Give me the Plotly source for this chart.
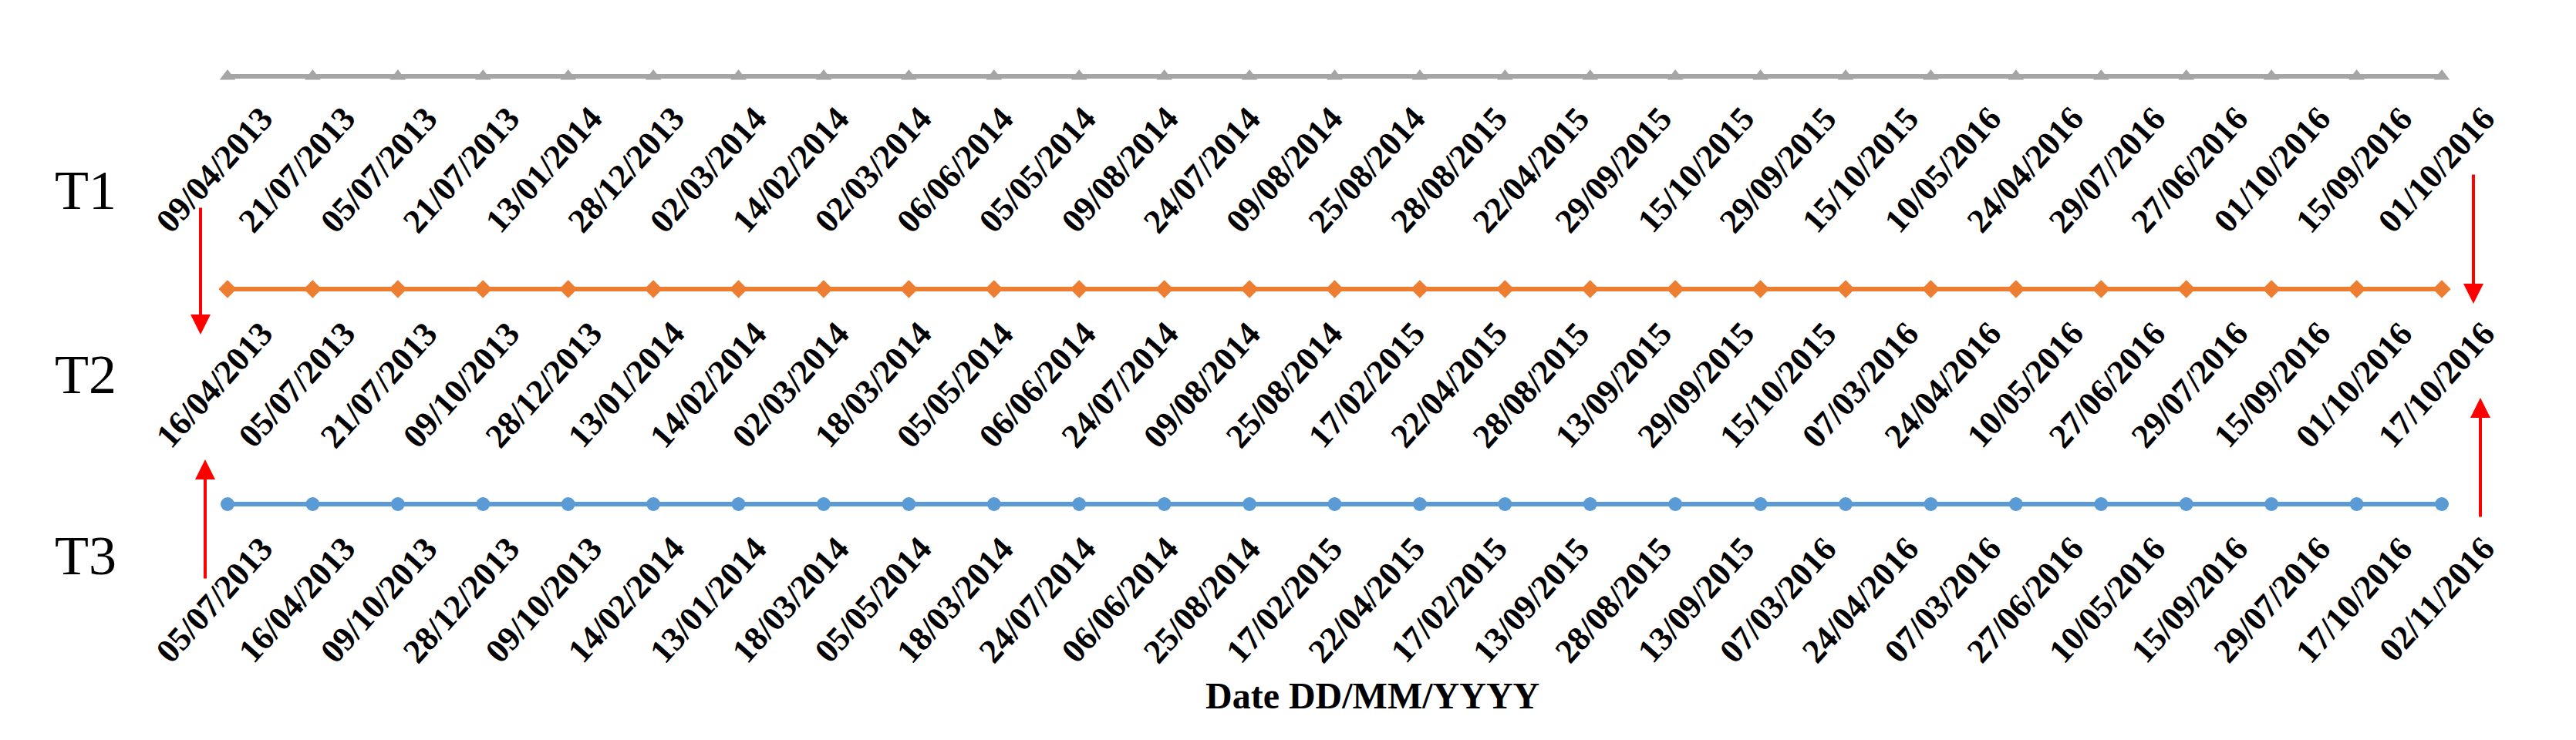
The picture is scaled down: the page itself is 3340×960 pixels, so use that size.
import plotly.graph_objects as go

t1_labels = ["09/04/2013","21/07/2013","05/07/2013","21/07/2013","13/01/2014","28/12/2013","02/03/2014","14/02/2014","02/03/2014","06/06/2014","05/05/2014","09/08/2014","24/07/2014","09/08/2014","25/08/2014","28/08/2015","22/04/2015","29/09/2015","15/10/2015","29/09/2015","15/10/2015","10/05/2016","24/04/2016","29/07/2016","27/06/2016","01/10/2016","15/09/2016","01/10/2016"]
t2_labels = ["16/04/2013","05/07/2013","21/07/2013","09/10/2013","28/12/2013","13/01/2014","14/02/2014","02/03/2014","18/03/2014","05/05/2014","06/06/2014","24/07/2014","09/08/2014","25/08/2014","17/02/2015","22/04/2015","28/08/2015","13/09/2015","29/09/2015","15/10/2015","07/03/2016","24/04/2016","10/05/2016","27/06/2016","29/07/2016","15/09/2016","01/10/2016","17/10/2016"]
t3_labels = ["05/07/2013","16/04/2013","09/10/2013","28/12/2013","09/10/2013","14/02/2014","13/01/2014","18/03/2014","05/05/2014","18/03/2014","24/07/2014","06/06/2014","25/08/2014","17/02/2015","22/04/2015","17/02/2015","13/09/2015","28/08/2015","13/09/2015","07/03/2016","24/04/2016","07/03/2016","27/06/2016","10/05/2016","15/09/2016","29/07/2016","17/10/2016","02/11/2016"]
row_names = ["T1", "T2", "T3"]
n_points = 27

W, H = 3340, 960
PX0, PXSTEP = 287, (3158 - 287) / 26
def px2x(px):
    return (px - PX0) / PXSTEP

rows = [
    dict(name="T1", labels=t1_labels, y=91, lab_top=119, ty=239, color="#A5A5A5", symbol="triangle-up"),
    dict(name="T2", labels=t2_labels, y=367, lab_top=398, ty=478, color="#ED7D31", symbol="diamond"),
    dict(name="T3", labels=t3_labels, y=646, lab_top=677, ty=713, color="#5B9BD5", symbol="circle"),
]

fig = go.Figure()
xs = list(range(n_points))
annos = []
for r in rows:
    fig.add_trace(go.Scatter(x=xs, y=[r["y"]] * n_points, mode="lines+markers",
                             line=dict(color=r["color"], width=6),
                             marker=dict(symbol=r["symbol"], size=18, color=r["color"]),
                             showlegend=False, hoverinfo="skip"))
    for i, lab in enumerate(r["labels"]):
        annos.append(dict(x=px2x(358 + i * (3239 - 358) / 27), y=r["lab_top"], xref="x", yref="y",
                          text=lab, textangle=-48, showarrow=False, xanchor="right", yanchor="top",
                          font=dict(family="Liberation Serif", size=44, color="black", weight="bold")))
    annos.append(dict(x=103 / W, y=r["ty"], xref="paper", yref="y", text=r["name"], showarrow=False,
                      xanchor="center", yanchor="middle",
                      font=dict(family="Liberation Serif", size=72, color="black")))

arrows = [(252, 260, 252, 426), (258, 744, 258, 588), (3199, 217, 3199, 386), (3208, 664, 3208, 508)]
for x0, y0, x1, y1 in arrows:
    annos.append(dict(x=px2x(x1), y=y1, ax=px2x(x0), ay=y0, xref="x", yref="y", axref="x", ayref="y",
                      showarrow=True, arrowhead=2, arrowsize=1.3, arrowwidth=4, arrowcolor="red", text=""))

annos.append(dict(x=1771 / W, y=894, xref="paper", yref="y", text="Date DD/MM/YYYY", showarrow=False,
                  font=dict(family="Liberation Serif", size=48, color="black", weight="bold")))

fig.update_layout(
    width=W, height=H, margin=dict(l=0, r=0, t=0, b=0),
    paper_bgcolor="white", plot_bgcolor="white",
    xaxis=dict(range=[px2x(0), px2x(W)], visible=False),
    yaxis=dict(range=[H, 0], visible=False),
    annotations=annos,
)
fig.write_html("out.html")
